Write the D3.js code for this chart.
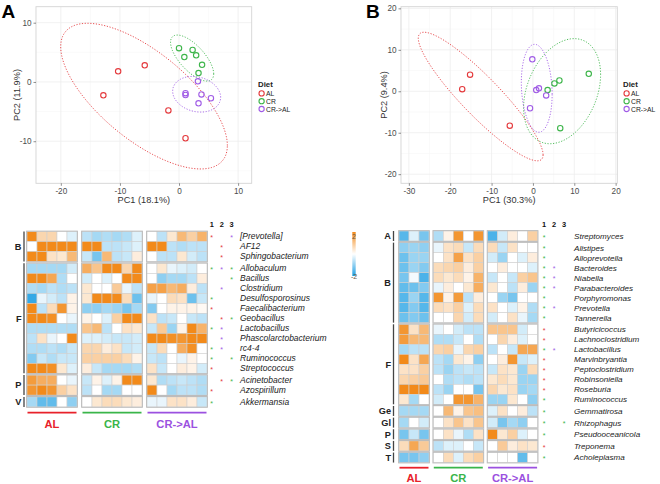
<!DOCTYPE html>
<html><head><meta charset="utf-8">
<script src="https://cdn.jsdelivr.net/npm/d3@7"></script>
<style>body{margin:0;background:#fff} svg{display:block;font-family:"Liberation Sans",Arial,sans-serif}</style>
</head><body><svg id="c" width="660" height="484"></svg>
<script>
// ---------- data ----------
const diets = ["AL","CR","CR->AL"];
const dietColors = ["#E4393C","#3DB54A","#A05CE6"];
const labelColors = ["#E8212A","#3AB54A","#9B51E0"];

// PCA panel A
const pcaA_AL   = [[-12.8,-2.25],[-10.3,1.8],[-5.8,2.8],[-1.8,-4.8],[1.1,-9.5]];
const pcaA_CR   = [[0,5.7],[0.9,4.2],[2.3,5.4],[2.9,4.5],[3.9,2.9],[3.3,1.5]];
const pcaA_CRAL = [[3.2,0.1],[1.1,-1.9],[1.1,-2.2],[3.8,-2.1],[5.4,-2.75],[3.3,-3.6]];
const pcaA_xTicks = [-20,-10,0,10];
const pcaA_yTicks = [-10,0,10];
const pcaA_xTitle = "PC1 (18.1%)", pcaA_yTitle = "PC2 (11.9%)";

// PCA panel B
const pcaB_AL   = [[-15.2,4.0],[-17.1,0.5],[-5.6,-8.3]];
const pcaB_CR   = [[3.55,0.3],[5.2,1.9],[6.4,2.6],[13.5,4.2],[6.6,-8.9]];
const pcaB_CRAL = [[-0.15,7.7],[0.8,0.3],[1.45,0.7],[3.2,-1.0],[-0.7,-4.1]];
const pcaB_xTicks = [-30,-20,-10,0,10,20];
const pcaB_yTicks = [-20,-10,0,10,20];
const pcaB_xTitle = "PC1 (30.3%)", pcaB_yTitle = "PC2 (9.4%)";

// Heatmap A
const generaA = ["[Prevotella]","AF12","Sphingobacterium","Allobaculum","Bacillus","Clostridium","Desulfosporosinus","Faecalibacterium","Geobacillus","Lactobacillus","Phascolarctobacterium","rc4-4","Ruminococcus","Streptococcus","Acinetobacter","Azospirillum","Akkermansia"];
const phylumA = ["B","B","B","F","F","F","F","F","F","F","F","F","F","F","P","P","V"];
const heatA_AL = [
[2,0.7,0.7,0,-0.3],[0,2,2,2,2],[2,2,0.5,0.4,1.2],
[-0.8,-0.8,-0.8,-0.8,-0.4],[2,2,1.5,-0.7,0],[-0.7,-0.8,-0.6,-0.7,-0.6],[-1.8,-0.2,-0.4,-0.6,0.2],
[2,-0.6,0.6,1.8,0.2],[2,2,1.9,0,-0.2],[-0.7,-0.7,-0.7,-0.7,-0.7],[-0.6,0.5,-0.2,0,2],
[-0.7,-0.7,-0.6,-0.7,-0.5],[-1.1,-0.5,-0.7,-0.5,-0.5],[2,2,1.9,0.4,-0.3],
[1.7,1.4,1.4,0,-0.2],[1.8,2,1.8,0.8,0.5],
[-0.8,-1.4,-1.4,0,-1]];
const heatA_CR = [
[-0.6,-0.8,-0.7,-0.8,-0.7,-0.3],[2,2,-0.6,-0.6,-0.5,-0.3],[-0.5,-1.2,1.2,-0.6,-0.5,0.3],
[1.4,1.0,2,2,0.7,2],[-0.4,0,-0.3,0,2,2],[0.4,0,0,0.9,-0.2,-0.6],[0.4,2,2,2,0.6,-1.3],
[-1.0,-1.0,-0.8,-0.9,-1.2,-0.8],[0.2,0,-0.3,0.8,2,2],[1.0,1.2,-0.6,0,0.5,0.4],
[-0.3,-0.3,-0.4,-0.5,-0.5,-0.4],[0.7,0.7,0.3,0.5,-0.5,-0.4],[0.8,0.8,0.8,0.8,0.6,0.2],
[0.3,-0.5,-0.8,-0.8,-0.8,-0.7],
[-0.5,0.2,-0.3,0.2,2,2],[-0.6,0,-0.8,-0.8,0,0],
[0,0.4,0.6,0.6,0.4,0.3]];
const heatA_CRAL = [
[0,-0.6,0.4,1.2,0.8,1.3],[2,2,-0.6,-0.7,-0.6,-0.6],[0,-0.6,-0.6,0.4,-0.4,-0.6],
[0,0.4,-0.2,-0.3,-0.4,0],[0,-1.0,-0.8,-0.8,-0.6,0.3],[1.6,1.6,1.2,1.4,0.3,-0.6],
[-0.2,0,0.6,0.5,-1.3,-0.5],[-1.1,0,0.2,0.2,0.2,0.1],[0.5,-0.6,-0.5,0,-0.5,-0.6],
[-0.5,0.9,-0.9,0.2,2,1.3],[2,2,1.9,1.8,2,2],[-0.5,0.6,0,1.4,1.9,0],
[-0.5,-0.6,0,-0.2,0.2,0],[0.5,-0.5,0,0.3,0.2,-0.4],
[0.4,-0.7,-0.6,-0.5,-0.6,-0.7],[2,0,-0.8,-0.6,-0.6,-0.7],
[-0.2,-0.2,0.5,0.5,0.3,-0.5]];
const starsA = [["r","","p"],["","r",""],["","r",""],["g","p","g"],["","","g"],["","p",""],["g","",""],["r","",""],["","r","g"],["g","p",""],["","p",""],["g","p",""],["g","","g"],["r","",""],["","r","g"],["r","",""],["g","",""]];

// Heatmap B
const generaB = ["Streptomyces","Alistipes","Alloprevotella","Bacteroides","Niabella","Parabacteroides","Porphyromonas","Prevotella","Tannerella","Butyricicoccus","Lachnoclostridium","Lactobacillus","Marvinbryantia","Peptoclostridium","Robinsoniella","Roseburia","Ruminococcus","Gemmatirosa","Rhizophagus","Pseudooceanicola","Treponema","Acholeplasma"];
const phylumB = ["A","B","B","B","B","B","B","B","B","F","F","F","F","F","F","F","F","Ge","Gl","P","S","T"];
const heatB_AL = [
[-1.5,-0.3,-1.2],
[-1.0,-0.9,-1.0],[-1.3,-0.9,-0.9],[-1.3,-0.9,-1.1],[-1.2,-0.1,-1.6],[-1.4,-1.3,-1.1],[-1.5,-0.9,-1.5],[-1.5,-1.1,-1.5],[-1.3,-1.1,-1.3],
[1.8,0.5,1.2],[1.7,1.2,1.2],[-0.8,-0.6,-0.6],[2,0.5,1.5],[0.5,0.5,0.8],[0.7,0.8,0.9],[2,2,2],[0.4,-0.8,0],
[-0.8,-0.8,-0.8],[-0.8,0,-0.4],[-1.2,-0.5,-1.2],[0.6,1.5,0.9],[-1.2,-1.2,-1.0]];
const heatB_CR = [
[-0.7,0.2,1.8,0,1.8],
[-0.2,0.5,0.6,-0.5,0.6],[0,0.5,1.6,0.5,0.8],[0.6,0.7,0.8,0.3,0.8],[0.6,0.4,0.6,0.2,1.3],[-0.2,0.3,0,0.4,1.4],[1.8,0.2,1.7,-0.6,0.3],[0.6,0.5,0.8,-0.3,0.6],[0,0,0.7,-0.4,0.6],
[-0.2,0,-0.4,-0.6,-0.6],[-0.7,-0.7,-0.5,0,-0.7],[0.7,0.8,-0.2,0.7,0.8],[-0.6,-0.8,0.4,0.2,-1.0],[-0.6,-0.9,-0.6,-0.5,-0.6],[0,-0.7,-0.6,-0.7,-0.6],[-0.6,-0.9,0,0,-1.2],[-0.4,0,1.8,1.8,1.3],
[0,1.2,0.2,1.0,1.1],[0,0.5,1.0,0.5,1.0],[0,0.5,-0.2,-0.7,0.5],[-0.6,-0.3,-0.3,0,-0.5],[0,0.6,-0.3,0.6,0.8]];
const heatB_CRAL = [
[-1.6,-0.4,0.3,0,0.8],
[0.6,-0.5,0.5,0,0],[-0.4,-0.9,0,-0.3,0.3],[0,0.3,0,0,-0.3],[-0.5,0,-0.5,0.8,1.0],[0.4,0,-0.6,0.3,-0.9],[0,-0.9,-1.2,0,0],[0.5,0,-0.3,0.2,-0.7],[-0.4,0,0.5,-0.2,-0.8],
[1.0,1.0,1.0,-0.4,0],[0,0.7,0.3,-0.3,0],[-0.6,0,-0.5,1.5,1.5],[0,0.3,1.8,-0.5,-0.3],[-0.5,0.5,0.4,-0.9,0.6],[0.4,0.6,0.4,-0.9,-0.9],[0.7,0.4,0.5,-0.9,-0.8],[-0.9,-0.9,0.4,0,-1.0],
[-0.3,0.5,0,0.3,-0.6],[-0.4,-1.2,-0.8,-1.0,0],[2,0.4,0.8,-0.3,0],[0,0.9,0.3,0.5,0.4],[0,0,0,-1.4,0]];
const starsB = [["g","",""],["g","",""],["g","",""],["g","p",""],["g","p",""],["g","p",""],["g","",""],["g","p",""],["g","",""],["r","",""],["r","",""],["g","p",""],["r","",""],["r","",""],["r","",""],["r","",""],["g","",""],["g","",""],["g","","g"],["g","",""],["r","",""],["g","",""]];

const starHeader = ["1","2","3"];
const colorScaleTicks = [2,-2];

// ---------- drawing ----------
const svg = d3.select("#c");
const starColor = {r:"#E4393C", g:"#3DB54A", p:"#A05CE6"};
const heatColor = d3.scaleLinear().domain([-2,0,2]).range(["#1E9FE3","#ffffff","#F28A1A"]).clamp(true);

function ellipse(pts){
  const n = pts.length;
  const mx = d3.mean(pts,d=>d[0]), my = d3.mean(pts,d=>d[1]);
  let sxx=0,syy=0,sxy=0;
  pts.forEach(([x,y])=>{sxx+=(x-mx)**2; syy+=(y-my)**2; sxy+=(x-mx)*(y-my);});
  sxx/=(n-1); syy/=(n-1); sxy/=(n-1);
  const a=Math.sqrt(sxx), b=sxy/a, c=Math.sqrt(Math.max(syy-b*b,0));
  const k=Math.sqrt(5.991464547);
  return d3.range(0,121).map(i=>{const t=2*Math.PI*i/120,u=Math.cos(t),v=Math.sin(t);return [mx+k*a*u,my+k*(b*u+c*v)];});
}

function scatter(cfg){
  const g = svg.append("g");
  const x = d3.scaleLinear().domain(cfg.xd).range(cfg.xr);
  const y = d3.scaleLinear().domain(cfg.yd).range(cfg.yr);
  g.append("rect").attr("x",cfg.xr[0]).attr("y",cfg.yr[1]).attr("width",cfg.xr[1]-cfg.xr[0]).attr("height",cfg.yr[0]-cfg.yr[1]).attr("fill","#fff");
  const stepX = cfg.xt[1]-cfg.xt[0], stepY = cfg.yt[1]-cfg.yt[0];
  const minX = d3.range(cfg.xt[0]-stepX/2, cfg.xd[1], stepX).filter(v=>v>cfg.xd[0]);
  const minY = d3.range(cfg.yt[0]-stepY/2, cfg.yd[1], stepY).filter(v=>v>cfg.yd[0]);
  g.selectAll(null).data(minX).join("line").attr("x1",d=>x(d)).attr("x2",d=>x(d)).attr("y1",cfg.yr[0]).attr("y2",cfg.yr[1]).attr("stroke","#f6f6f6").attr("stroke-width",0.6);
  g.selectAll(null).data(minY).join("line").attr("y1",d=>y(d)).attr("y2",d=>y(d)).attr("x1",cfg.xr[0]).attr("x2",cfg.xr[1]).attr("stroke","#f6f6f6").attr("stroke-width",0.6);
  g.selectAll(null).data(cfg.xt).join("line").attr("x1",d=>x(d)).attr("x2",d=>x(d)).attr("y1",cfg.yr[0]).attr("y2",cfg.yr[1]).attr("stroke","#eeeeee").attr("stroke-width",0.8);
  g.selectAll(null).data(cfg.yt).join("line").attr("y1",d=>y(d)).attr("y2",d=>y(d)).attr("x1",cfg.xr[0]).attr("x2",cfg.xr[1]).attr("stroke","#eeeeee").attr("stroke-width",0.8);
  const line = d3.line().x(d=>x(d[0])).y(d=>y(d[1]));
  cfg.groups.forEach((pts,i)=>{
    g.append("path").attr("d",line(ellipse(pts))).attr("fill","none").attr("stroke",dietColors[i]).attr("stroke-width",0.9).attr("stroke-dasharray","1.2,1.6");
  });
  cfg.groups.forEach((pts,i)=>{
    g.selectAll(null).data(pts).join("circle").attr("cx",d=>x(d[0])).attr("cy",d=>y(d[1])).attr("r",2.7).attr("fill","none").attr("stroke",dietColors[i]).attr("stroke-width",1.1);
  });
  g.append("rect").attr("x",cfg.xr[0]).attr("y",cfg.yr[1]).attr("width",cfg.xr[1]-cfg.xr[0]).attr("height",cfg.yr[0]-cfg.yr[1]).attr("fill","none").attr("stroke","#d4d4d4").attr("stroke-width",0.9);
  const fmt = d=>String(d);
  const ax = g.append("g").attr("transform",`translate(0,${cfg.yr[0]})`).call(d3.axisBottom(x).tickValues(cfg.xt).tickSize(2.5).tickPadding(2).tickFormat(fmt));
  const ay = g.append("g").attr("transform",`translate(${cfg.xr[0]},0)`).call(d3.axisLeft(y).tickValues(cfg.yt).tickSize(2.5).tickPadding(2).tickFormat(fmt));
  [ax,ay].forEach(a=>{a.select(".domain").remove(); a.selectAll("line").attr("stroke","#444").attr("stroke-width",0.6);
    a.selectAll("text").attr("font-size",8.2).attr("fill","#4d4d4d").attr("font-family","Liberation Sans, Arial, sans-serif");});
  g.append("text").attr("x",(cfg.xr[0]+cfg.xr[1])/2).attr("y",203).attr("text-anchor","middle").attr("font-size",9.2).attr("fill","#333").text(cfg.xTitle);
  g.append("text").attr("transform",`translate(${cfg.yTitleX},${(cfg.yr[0]+cfg.yr[1])/2}) rotate(-90)`).attr("text-anchor","middle").attr("font-size",9.2).attr("fill","#333").text(cfg.yTitle);
  const lg = g.append("g");
  lg.append("text").attr("x",cfg.legX).attr("y",87.3).attr("font-size",7.8).attr("font-weight","bold").attr("fill","#222").text("Diet");
  diets.forEach((d,i)=>{
    const yy = 93.4 + i*7.8;
    lg.append("circle").attr("cx",cfg.legX+3.6).attr("cy",yy).attr("r",2.6).attr("fill","none").attr("stroke",dietColors[i]).attr("stroke-width",1.1);
    lg.append("text").attr("x",cfg.legX+8).attr("y",yy+2.5).attr("font-size",6.8).attr("fill","#222").text(d);
  });
  svg.append("text").attr("x",cfg.letterX).attr("y",17.5).attr("font-size",19).attr("font-weight","bold").attr("fill","#000").text(cfg.letter);
}

scatter({xd:[-24.2,12.3], xr:[36,251.7], yd:[-17.1,12.7], yr:[183.3,6.7], xt:pcaA_xTicks, yt:pcaA_yTicks,
  groups:[pcaA_AL,pcaA_CR,pcaA_CRAL], xTitle:pcaA_xTitle, yTitle:pcaA_yTitle, yTitleX:19.5, legX:258, letter:"A", letterX:1.5});
scatter({xd:[-31.9,20.4], xr:[401,617.3], yd:[-22.2,20.4], yr:[183.3,6.7], xt:pcaB_xTicks, yt:pcaB_yTicks,
  groups:[pcaB_AL,pcaB_CR,pcaB_CRAL], xTitle:pcaB_xTitle, yTitle:pcaB_yTitle, yTitleX:386.5, legX:623, letter:"B", letterX:366});

function heatmap(cfg){
  const g = svg.append("g");
  const blocks = [cfg.al, cfg.cr, cfg.cral];
  const groups = [];
  cfg.phylum.forEach((p,i)=>{ if(!groups.length || groups[groups.length-1].name!==p) groups.push({name:p, rows:[]}); groups[groups.length-1].rows.push(i); });
  let yy = cfg.y0;
  const rowPos = [];
  groups.forEach(gr=>{
    const sc = d3.scaleBand().domain(gr.rows).range([yy, yy+gr.rows.length*cfg.ch]);
    gr.y0 = yy; gr.y1 = yy+gr.rows.length*cfg.ch;
    gr.rows.forEach(r=>rowPos[r]=sc(r));
    yy = gr.y1 + cfg.rgap;
  });
  let xx = cfg.x0; const colInfo=[];
  blocks.forEach(blk=>{
    const nc = blk[0].length;
    const sc = d3.scaleBand().domain(d3.range(nc)).range([xx, xx+nc*cfg.cw]);
    colInfo.push({x0:xx, x1:xx+nc*cfg.cw, sc});
    xx += nc*cfg.cw + cfg.cgap;
  });
  blocks.forEach((blk,bi)=>{
    const ci = colInfo[bi];
    blk.forEach((row,ri)=>{
      g.selectAll(null).data(row).join("rect").attr("x",(d,j)=>ci.sc(j)).attr("y",rowPos[ri]).attr("width",ci.sc.bandwidth()).attr("height",cfg.ch)
        .attr("fill",d=>heatColor(d)).attr("stroke","#cfcfcf").attr("stroke-width",0.6);
    });
    groups.forEach(gr=>{
      g.append("rect").attr("x",ci.x0-0.4).attr("y",gr.y0-0.4).attr("width",ci.x1-ci.x0+0.8).attr("height",gr.y1-gr.y0+0.8).attr("fill","none").attr("stroke","#b8b8b8").attr("stroke-width",0.9);
    });
    g.append("line").attr("x1",ci.x0+0.5).attr("x2",ci.x1-0.5).attr("y1",cfg.ulY).attr("y2",cfg.ulY).attr("stroke",labelColors[bi]).attr("stroke-width",1.8);
    g.append("text").attr("x",(ci.x0+ci.x1)/2).attr("y",cfg.lblY).attr("text-anchor","middle").attr("font-size",11.2).attr("font-weight","bold").attr("fill",labelColors[bi]).text(diets[bi]);
  });
  groups.forEach(gr=>{
    g.append("line").attr("x1",cfg.brX).attr("x2",cfg.brX).attr("y1",gr.y0).attr("y2",gr.y1).attr("stroke","#444").attr("stroke-width",1.3);
    g.append("text").attr("x",cfg.brX-2.5).attr("y",(gr.y0+gr.y1)/2+3.3).attr("text-anchor","end").attr("font-size",9.2).attr("font-weight","bold").attr("fill","#222").text(gr.name);
  });
  starHeader.forEach((s,i)=>{
    g.append("text").attr("x",cfg.starX[i]).attr("y",226.8).attr("text-anchor","middle").attr("font-size",7.4).attr("font-weight","bold").attr("fill","#111").text(s);
  });
  cfg.stars.forEach((row,ri)=>{
    row.forEach((s,i)=>{ if(!s) return;
      g.append("text").attr("x",cfg.starX[i]).attr("y",rowPos[ri]+cfg.ch/2+3.6).attr("text-anchor","middle").attr("font-size",7).attr("fill",starColor[s]).text("*");
    });
  });
  cfg.genera.forEach((name,ri)=>{
    g.append("text").attr("x",cfg.lblX).attr("y",rowPos[ri]+cfg.ch/2+2.9).attr("font-size",cfg.fs).attr("font-style","italic").attr("fill","#222").text(name);
  });
}

heatmap({al:heatA_AL, cr:heatA_CR, cral:heatA_CRAL, phylum:phylumA, genera:generaA, stars:starsA,
  x0:27, y0:231.5, cw:10, ch:10, cgap:5, rgap:1.8, brX:24, ulY:412.7, lblY:427.5, starX:[211.7,221.7,231.5], lblX:240, fs:8.5});
heatmap({al:heatB_AL, cr:heatB_CR, cral:heatB_CRAL, phylum:phylumB, genera:generaB, stars:starsB,
  x0:399, y0:231, cw:10, ch:10, cgap:4.3, rgap:1.65, brX:393.5, ulY:467.7, lblY:482.3, starX:[544,554,564], lblX:574, fs:8.1});

const defs = svg.append("defs");
const grad = defs.append("linearGradient").attr("id","cb").attr("x1",0).attr("x2",0).attr("y1",0).attr("y2",1);
const cbScale = d3.scaleLinear().domain([2,-2]).range([0,1]);
[2,1,0,-1,-2].forEach(v=>grad.append("stop").attr("offset",cbScale(v)).attr("stop-color",heatColor(v)));
svg.append("rect").attr("x",352.3).attr("y",232).attr("width",3.4).attr("height",44).attr("fill","url(#cb)");
const cbY = d3.scaleLinear().domain([2,-2]).range([238.5,279]);
colorScaleTicks.forEach(v=>svg.append("text").attr("x",354).attr("y",cbY(v)).attr("text-anchor","middle").attr("font-size",7).attr("fill","#6b5a45").text(v));
</script></body></html>
